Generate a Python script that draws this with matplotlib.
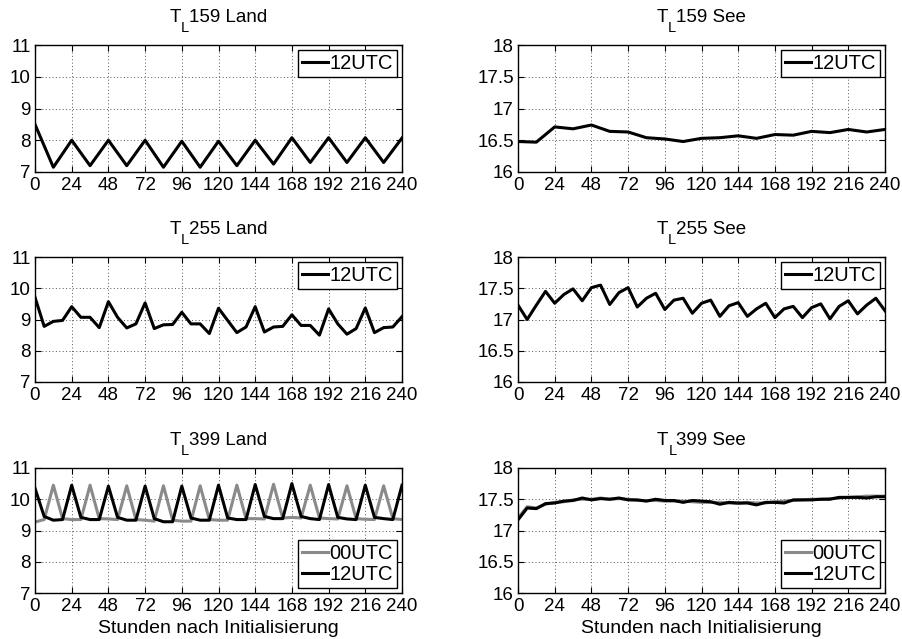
import numpy as np
import matplotlib
matplotlib.use("Agg")
import matplotlib.pyplot as plt

plt.rcParams['font.family'] = ['Liberation Sans', 'DejaVu Sans']
plt.rcParams['mathtext.fontset'] = 'custom'
plt.rcParams['mathtext.rm'] = 'Liberation Sans'

hours12 = list(range(0, 241, 12))
hours6 = list(range(0, 241, 6))

t159_land_12 = [8.5, 7.15, 8.0, 7.2, 8.0, 7.2, 8.0, 7.15, 7.97, 7.15, 7.97,
                7.2, 8.0, 7.25, 8.08, 7.3, 8.08, 7.3, 8.08, 7.3, 8.07]
t159_see_12 = [16.48, 16.47, 16.71, 16.68, 16.74, 16.64, 16.63, 16.54, 16.52, 16.48, 16.53,
               16.54, 16.57, 16.53, 16.59, 16.58, 16.64, 16.62, 16.67, 16.63, 16.67]

t255_land_12 = [9.71, 8.78, 8.94, 8.97, 9.41, 9.07, 9.07, 8.74, 9.57, 9.07, 8.73,
                8.86, 9.53, 8.71, 8.83, 8.84, 9.23, 8.86, 8.86, 8.55, 9.36,
                8.97, 8.58, 8.76, 9.41, 8.6, 8.76, 8.78, 9.15, 8.81, 8.81,
                8.5, 9.34, 8.86, 8.53, 8.71, 9.37, 8.58, 8.74, 8.76, 9.09]
t255_see_12 = [17.23, 17.0, 17.23, 17.45, 17.26, 17.4, 17.49, 17.3, 17.51, 17.55, 17.24,
               17.43, 17.51, 17.2, 17.34, 17.42, 17.16, 17.31, 17.34, 17.1, 17.26,
               17.31, 17.05, 17.22, 17.27, 17.05, 17.17, 17.26, 17.03, 17.17, 17.21,
               17.03, 17.19, 17.25, 17.01, 17.21, 17.3, 17.09, 17.23, 17.34, 17.14]

t399_land_00 = [9.27, 9.35, 10.45, 9.38, 9.35, 9.35, 10.45, 9.38, 9.37, 9.35, 10.43,
                9.35, 9.33, 9.3, 10.43, 9.33, 9.3, 9.3, 10.43, 9.35, 9.33,
                9.33, 10.45, 9.38, 9.38, 9.37, 10.48, 9.4, 9.42, 9.4, 10.45,
                9.4, 9.38, 9.37, 10.43, 9.38, 9.36, 9.35, 10.43, 9.38, 9.35]
t399_land_12 = [10.35, 9.45, 9.33, 9.35, 10.45, 9.42, 9.35, 9.35, 10.42, 9.42, 9.33,
                9.33, 10.42, 9.38, 9.28, 9.28, 10.42, 9.4, 9.33, 9.33, 10.45,
                9.4, 9.35, 9.35, 10.47, 9.45, 9.38, 9.38, 10.5, 9.45, 9.38,
                9.35, 10.47, 9.42, 9.37, 9.35, 10.45, 9.42, 9.38, 9.35, 10.45]
t399_see_00 = [17.2, 17.38, 17.36, 17.42, 17.45, 17.46, 17.49, 17.5, 17.5, 17.52, 17.5,
               17.51, 17.5, 17.48, 17.48, 17.48, 17.47, 17.47, 17.47, 17.46, 17.45,
               17.45, 17.45, 17.44, 17.43, 17.45, 17.44, 17.44, 17.46, 17.47, 17.48,
               17.49, 17.5, 17.5, 17.51, 17.52, 17.53, 17.54, 17.55, 17.55, 17.55]
t399_see_12 = [17.17, 17.36, 17.35, 17.43, 17.44, 17.47, 17.48, 17.52, 17.49, 17.51, 17.5,
               17.52, 17.49, 17.49, 17.47, 17.5, 17.48, 17.48, 17.45, 17.48, 17.47,
               17.46, 17.42, 17.45, 17.44, 17.44, 17.41, 17.45, 17.45, 17.44, 17.49,
               17.49, 17.49, 17.5, 17.5, 17.53, 17.53, 17.53, 17.52, 17.54, 17.54]

# title pieces: main letter, subscript, rest
title_main = "T"
title_sub = "L"
title_rest = ["159 Land", "159 See", "255 Land", "255 See", "399 Land", "399 See"]
xticks = list(range(0, 241, 24))
land_yticks = [7, 8, 9, 10, 11]
see_yticks = [16, 16.5, 17, 17.5, 18]
see_yticklabels = ["16", "16.5", "17", "17.5", "18"]
xlabel = "Stunden nach Initialisierung"
GRAY = "#8a8a8a"

fig = plt.figure(figsize=(9.02, 6.39), dpi=100)
renderer = fig.canvas.get_renderer()

W, H = 902, 639
def add_ax(left, top, right, bottom):
    return fig.add_axes([left / W, 1 - bottom / H, (right - left) / W, (bottom - top) / H])

def text_width_pt(s, size):
    t = fig.text(0, 0, s, fontsize=size)
    w = t.get_window_extent(renderer).width
    t.remove()
    return w * 72.0 / fig.dpi

TSIZE = 13.5
SSIZE = 10.5

def draw_title(ax, rest):
    w1 = text_width_pt(title_main, TSIZE)
    w2 = text_width_pt(title_sub, SSIZE)
    w3 = text_width_pt(rest, TSIZE)
    x0 = -(w1 + w2 + w3) / 2.0
    base = 16.5  # points above axes top
    kw = dict(xy=(0.5, 1.0), xycoords="axes fraction", textcoords="offset points",
              ha="left", va="baseline", annotation_clip=False)
    ax.annotate(title_main, xytext=(x0, base), fontsize=TSIZE, **kw)
    ax.annotate(title_sub, xytext=(x0 + w1, base - 7.0), fontsize=SSIZE, **kw)
    ax.annotate(rest, xytext=(x0 + w1 + w2, base), fontsize=TSIZE, **kw)

lefts = [(35, 402), (518, 885)]
rows = [(45, 172), (257, 382), (468, 593)]

panels = [
    [(hours12, t159_land_12, "12UTC", "k")],
    [(hours12, t159_see_12, "12UTC", "k")],
    [(hours6, t255_land_12, "12UTC", "k")],
    [(hours6, t255_see_12, "12UTC", "k")],
    [(hours6, t399_land_00, "00UTC", GRAY), (hours6, t399_land_12, "12UTC", "k")],
    [(hours6, t399_see_00, "00UTC", GRAY), (hours6, t399_see_12, "12UTC", "k")],
]

for i in range(6):
    r, c = divmod(i, 2)
    ax = add_ax(lefts[c][0], rows[r][0], lefts[c][1], rows[r][1])
    for x, y, lab, col in panels[i]:
        ax.plot(x, y, color=col, lw=2.2, label=lab)
    ax.set_xlim(0, 240)
    ax.set_xticks(xticks)
    if c == 0:
        ax.set_ylim(7, 11)
        ax.set_yticks(land_yticks)
    else:
        ax.set_ylim(16, 18)
        ax.set_yticks(see_yticks)
        ax.set_yticklabels(see_yticklabels)
    ax.grid(True, linestyle=(0, (1, 2.5)), color="#555555", lw=0.7)
    ax.tick_params(direction="in", labelsize=13.5, length=4, top=True, right=True, pad=3)
    ax.tick_params(axis="x", pad=3.5)
    for sp in ax.spines.values():
        sp.set_linewidth(1.0)
    draw_title(ax, title_rest[i])
    loc = "upper right" if r < 2 else "lower right"
    leg = ax.legend(loc=loc, fontsize=14.5, fancybox=False, edgecolor="k",
                    framealpha=1, handlelength=1.3, handletextpad=0.05,
                    borderpad=0.2, labelspacing=0.1, borderaxespad=0.25)
    leg.get_frame().set_linewidth(1.0)
    if r == 2:
        ax.set_xlabel(xlabel, fontsize=14, labelpad=4)

fig.savefig("out.png", dpi=100)
